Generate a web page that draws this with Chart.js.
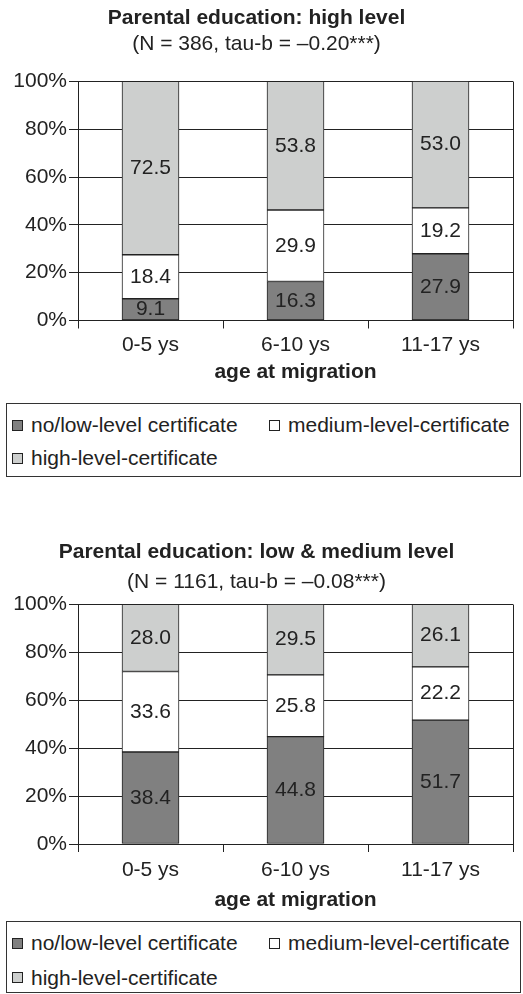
<!DOCTYPE html>
<html>
<head>
<meta charset="utf-8">
<title>Parental education by age at migration</title>
<script src="https://cdn.jsdelivr.net/npm/chart.js@4/dist/chart.umd.min.js"></script>
<style>
    body { margin: 0; background: #fff; }
    #page { position: relative; width: 523px; height: 994px; overflow: hidden; }
    canvas { position: absolute; left: 0; }
    .legend {
        position: absolute;
        left: 6px;
        width: 513px;
        border: 1px solid #333;
        font: 21px "Liberation Sans", Arial, sans-serif;
        color: #222;
    }
    .legend .item {
        position: absolute;
        height: 24px;
        line-height: 24px;
        white-space: nowrap;
        display: flex;
        align-items: center;
    }
    .legend .swatch {
        width: 9px;
        height: 9px;
        border: 1px solid #222;
        margin-right: 8px;
    }
</style>
</head>
<body>
<div id="page">
    <canvas id="chart-high" width="523" height="390" style="top:0px"></canvas>
    <div class="legend" id="legend-high" style="top:403px;height:72px"></div>
    <canvas id="chart-lowmed" width="523" height="386" style="top:530px"></canvas>
    <div class="legend" id="legend-lowmed" style="top:921px;height:70px"></div>
</div>
<script>
// Categories and series (percent of each age group)
const ageGroups = ['0-5 ys', '6-10 ys', '11-17 ys'];
const certificateLevels = ['no/low-level certificate', 'medium-level-certificate', 'high-level-certificate'];

const highLowCert = [9.1, 16.3, 27.9];
const highMediumCert = [18.4, 29.9, 19.2];
const highHighCert = [72.5, 53.8, 53.0];

const lowMedLowCert = [38.4, 44.8, 51.7];
const lowMedMediumCert = [33.6, 25.8, 22.2];
const lowMedHighCert = [28.0, 29.5, 26.1];

const percentTicks = [0, 20, 40, 60, 80, 100];

// Styling
const segmentColors = ['#808080', '#ffffff', '#cdcfce'];
const inkColor = '#222';
const fontFamily = '"Liberation Sans", Arial, sans-serif';

Chart.defaults.font.family = fontFamily;
Chart.defaults.font.size = 21;
Chart.defaults.color = inkColor;

// Value written in the middle of each bar segment
const segmentLabels = {
    id: 'segmentLabels',
    afterDatasetsDraw(chart) {
        const ctx = chart.ctx;
        ctx.save();
        ctx.font = '21px ' + fontFamily;
        ctx.fillStyle = inkColor;
        ctx.textAlign = 'center';
        ctx.textBaseline = 'middle';
        chart.data.datasets.forEach((ds, i) => {
            chart.getDatasetMeta(i).data.forEach((bar, j) => {
                const p = bar.getCenterPoint();
                ctx.fillText(ds.data[j].toFixed(1), p.x, p.y);
            });
        });
        ctx.restore();
    }
};

// Right edge of the plot frame
const plotFrame = {
    id: 'plotFrame',
    afterDraw(chart) {
        const { top, bottom, right } = chart.chartArea;
        const ctx = chart.ctx;
        const x = Math.round(right - 0.5) + 0.5;
        ctx.save();
        ctx.strokeStyle = inkColor;
        ctx.lineWidth = 1;
        ctx.beginPath();
        ctx.moveTo(x, Math.round(top - 0.5) + 0.5);
        ctx.lineTo(x, Math.round(bottom - 0.5) + 0.5);
        ctx.stroke();
        ctx.restore();
    }
};

function makeDatasets(series) {
    return series.map((values, i) => ({
        label: certificateLevels[i],
        data: values,
        backgroundColor: segmentColors[i],
        borderColor: inkColor,
        borderWidth: 1,
        borderSkipped: false,
        barThickness: 57
    }));
}

function makeChart(canvasId, opts) {
    return new Chart(document.getElementById(canvasId).getContext('2d'), {
        type: 'bar',
        data: {
            labels: ageGroups,
            datasets: makeDatasets(opts.series)
        },
        options: {
            responsive: false,
            animation: false,
            layout: { padding: { left: 0, right: 10, top: 0, bottom: opts.bottomPad } },
            plugins: {
                legend: { display: false },
                tooltip: { enabled: false },
                title: {
                    display: true,
                    text: opts.title,
                    color: inkColor,
                    font: { size: 21, weight: 'bold', lineHeight: 1.2 },
                    padding: { top: opts.titleTop, bottom: 0 }
                },
                subtitle: {
                    display: true,
                    text: opts.subtitle,
                    color: inkColor,
                    font: { size: 21, lineHeight: 1.2 },
                    padding: { top: opts.subTop, bottom: opts.subBottom }
                }
            },
            scales: {
                x: {
                    stacked: true,
                    afterFit: s => { s.height = opts.xAxisHeight; },
                    grid: {
                        offset: true,
                        drawOnChartArea: false,
                        drawTicks: true,
                        tickLength: 8,
                        color: inkColor
                    },
                    border: { display: true, color: inkColor },
                    ticks: { padding: opts.xTickPad, font: { size: 21, lineHeight: 1.2 } },
                    title: {
                        display: true,
                        text: 'age at migration',
                        font: { size: 21, weight: 'bold', lineHeight: 1.2 },
                        padding: { top: 0, bottom: 0 }
                    }
                },
                y: {
                    stacked: true,
                    min: percentTicks[0],
                    max: percentTicks[percentTicks.length - 1],
                    afterFit: s => { s.width = 78; },
                    afterBuildTicks: s => { s.ticks = percentTicks.map(v => ({ value: v })); },
                    grid: { color: inkColor, tickLength: 9 },
                    border: { display: true, color: inkColor },
                    ticks: {
                        padding: 2,
                        font: { size: 21 },
                        callback: v => v + '%'
                    }
                }
            }
        },
        plugins: [segmentLabels, plotFrame]
    });
}

function buildLegend(elId, rowY) {
    const slots = [{ x: 5, y: rowY[0] }, { x: 262, y: rowY[0] }, { x: 5, y: rowY[1] }];
    const el = document.getElementById(elId);
    certificateLevels.forEach((name, i) => {
        const item = document.createElement('div');
        item.className = 'item';
        item.style.left = slots[i].x + 'px';
        item.style.top = (slots[i].y - 12) + 'px';
        const sw = document.createElement('span');
        sw.className = 'swatch';
        sw.style.background = segmentColors[i];
        const txt = document.createElement('span');
        txt.textContent = name;
        item.appendChild(sw);
        item.appendChild(txt);
        el.appendChild(item);
    });
}

makeChart('chart-high', {
    title: 'Parental education: high level',
    subtitle: '(N = 386, tau-b = \u20130.20***)',
    series: [highLowCert, highMediumCert, highHighCert],
    titleTop: 6,
    subTop: 0,
    subBottom: 25,
    xAxisHeight: 64,
    xTickPad: 4,
    bottomPad: 5.5
});

makeChart('chart-lowmed', {
    title: 'Parental education: low & medium level',
    subtitle: '(N = 1161, tau-b = \u20130.08***)',
    series: [lowMedLowCert, lowMedMediumCert, lowMedHighCert],
    titleTop: 9.5,
    subTop: 4.5,
    subBottom: 10,
    xAxisHeight: 69,
    xTickPad: 6,
    bottomPad: 3
});

buildLegend('legend-high', [21, 54]);
buildLegend('legend-lowmed', [21, 55.5]);
</script>
</body>
</html>
